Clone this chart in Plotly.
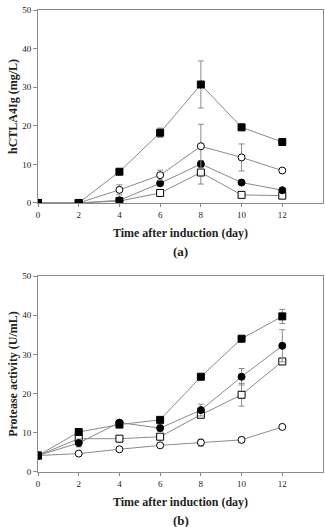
import plotly.graph_objects as go
from plotly.subplots import make_subplots

days = [0, 2, 4, 6, 8, 10, 12]
x_ticks = [0, 2, 4, 6, 8, 10, 12]
y_ticks = [0, 10, 20, 30, 40, 50]

# (a) hCTLA4Ig (mg/L)
a_fsq = [0, 0, 8.1, 18.2, 30.7, 19.6, 15.8]
a_fsq_err = [0, 0, 0, 1.2, 6.1, 0.8, 0.9]
a_ocir = [0, 0, 3.4, 7.2, 14.7, 11.8, 8.4]
a_ocir_err = [0, 0, 1.3, 1.3, 5.7, 3.5, 0]
a_fcir = [0, 0, 0.7, 5.1, 10.1, 5.3, 3.3]
a_fcir_err = [0, 0, 0, 0, 0.8, 0, 0]
a_osq = [0, 0, 0.5, 2.6, 7.9, 2.1, 1.9]
a_osq_err = [0, 0, 0.3, 0.5, 3.0, 0, 0]

# (b) Protease activity (U/mL)
b_fsq = [4.2, 10.2, 12.1, 13.3, 24.3, 34.0, 39.7]
b_fsq_err = [0, 0, 0, 0, 0, 0, 1.8]
b_fcir = [4.2, 7.4, 12.6, 11.2, 15.8, 24.3, 32.2]
b_fcir_err = [0, 1.0, 0, 0.8, 1.5, 2.1, 4.1]
b_osq = [4.2, 8.5, 8.5, 9.0, 14.6, 19.7, 28.2]
b_osq_err = [0, 0, 0, 0, 0.5, 2.9, 0]
b_ocir = [4.2, 4.7, 5.8, 6.8, 7.5, 8.2, 11.5]
b_ocir_err = [0, 0, 0, 0.3, 0.9, 0.7, 0]

fig = make_subplots(rows=2, cols=1)

LINE = "#8a8a8a"

def add(row, y, err, symbol, fill):
    fig.add_trace(go.Scatter(
        x=days, y=y, mode="lines+markers",
        line=dict(color=LINE, width=1),
        marker=dict(symbol=symbol, size=7, color=fill,
                    line=dict(color="black", width=1)),
        error_y=dict(type="data", array=err, visible=True, color=LINE, thickness=1, width=3),
        showlegend=False), row=row, col=1)

add(1, a_osq, a_osq_err, "square", "white")
add(1, a_fcir, a_fcir_err, "circle", "black")
add(1, a_ocir, a_ocir_err, "circle", "white")
add(1, a_fsq, a_fsq_err, "square", "black")

add(2, b_ocir, b_ocir_err, "circle", "white")
add(2, b_osq, b_osq_err, "square", "white")
add(2, b_fcir, b_fcir_err, "circle", "black")
add(2, b_fsq, b_fsq_err, "square", "black")

font_ticks = dict(family="Liberation Serif", size=9, color="#222")
title_font = dict(family="Liberation Serif", size=12, color="#222")

axis_common = dict(range=[0, 14], tickvals=x_ticks, ticks="outside", ticklen=3,
                   tickcolor=LINE, linecolor=LINE, linewidth=1, mirror=True,
                   showgrid=False, zeroline=False, tickfont=font_ticks,
                   tickprefix="<b>", ticksuffix="</b>")
yaxis_common = dict(range=[0, 50], tickvals=y_ticks, ticks="outside", ticklen=4,
                    tickcolor=LINE, linecolor=LINE, linewidth=1, mirror=True,
                    showgrid=False, zeroline=False, tickfont=font_ticks,
                    tickprefix="<b>", ticksuffix="</b>")

fig.update_xaxes(**axis_common)
fig.update_yaxes(**yaxis_common)
fig.update_xaxes(title=dict(text="<b>Time after induction (day)</b>", font=title_font, standoff=9), row=1, col=1)
fig.update_xaxes(title=dict(text="<b>Time after induction (day)</b>", font=title_font, standoff=9), row=2, col=1)
fig.update_yaxes(title=dict(text="<b>hCTLA4Ig (mg/L)</b>", font=title_font, standoff=1), row=1, col=1)
fig.update_yaxes(title=dict(text="<b>Protease activity (U/mL)</b>", font=title_font, standoff=1), row=2, col=1)

def py(pix):
    return (472 - pix) / 462.0

fig.update_layout(
    width=325, height=527,
    margin=dict(l=38, r=2, t=10, b=55),
    paper_bgcolor="white", plot_bgcolor="white",
    font=dict(family="Liberation Serif"),
    yaxis=dict(domain=[0.5823, 1.0]),
    yaxis2=dict(domain=[0.0, 0.4242]),
    annotations=[
        dict(text="<b>(a)</b>", x=0.5, xref="paper", y=py(251), yref="paper", yanchor="middle",
             showarrow=False, font=dict(family="Liberation Serif", size=13, color="#222")),
        dict(text="<b>(b)</b>", x=0.5, xref="paper", y=py(520), yref="paper", yanchor="middle",
             showarrow=False, font=dict(family="Liberation Serif", size=13, color="#222")),
    ],
)

fig.write_html("out.html")
